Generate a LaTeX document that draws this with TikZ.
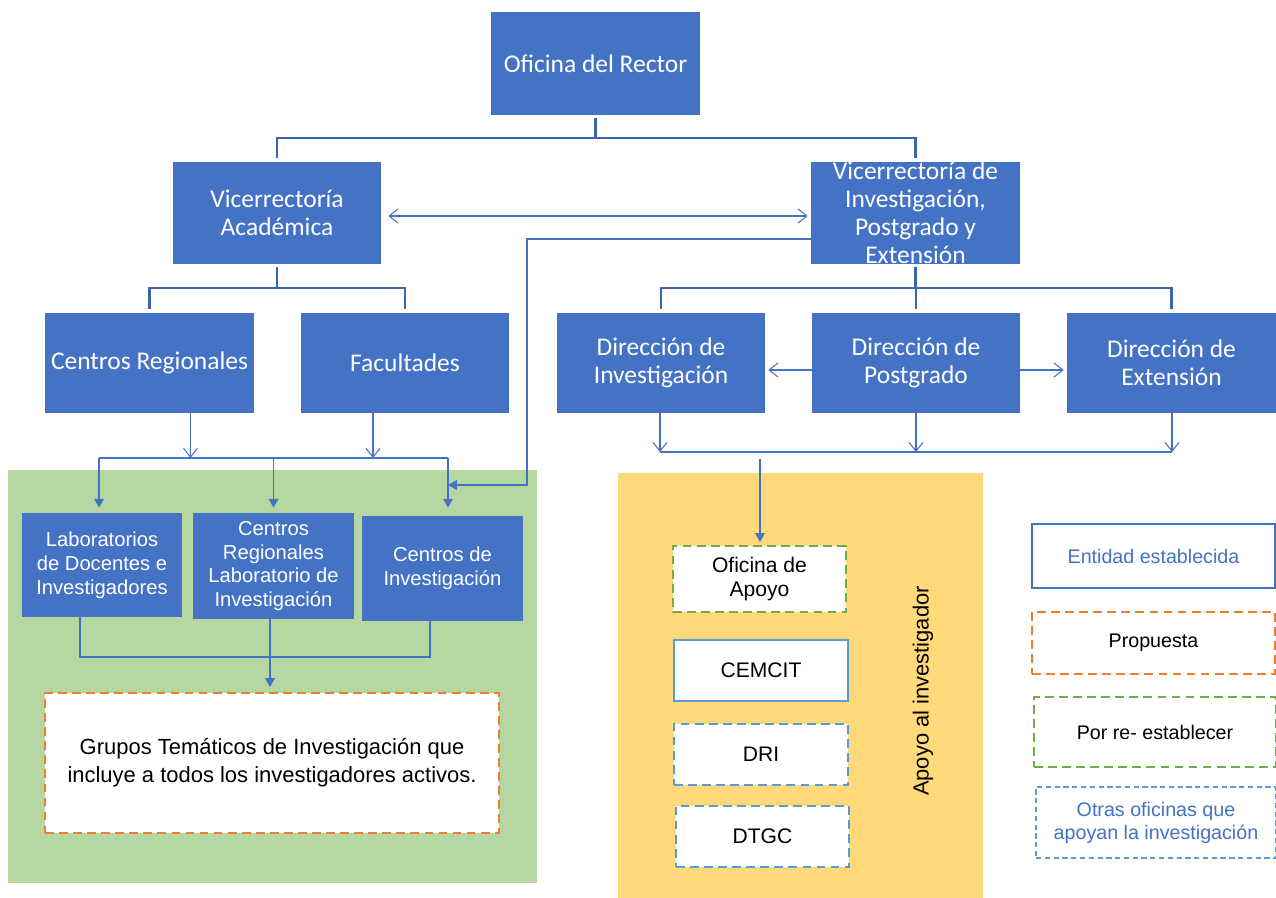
\documentclass[tikz,border=0pt]{standalone}
\usepackage{fontspec}
\setmainfont{Liberation Sans}
\newfontfamily\carl{Carlito}
\usetikzlibrary{arrows.meta,calc}
\definecolor{boxblue}{RGB}{68,114,196}
\definecolor{lineblue}{RGB}{68,114,196}
\definecolor{treeblue}{RGB}{62,100,170}
\definecolor{greenbg}{RGB}{182,215,162}
\definecolor{yellowbg}{RGB}{255,217,122}
\definecolor{dashorange}{RGB}{237,125,49}
\definecolor{dashgreen}{RGB}{112,173,71}
\definecolor{dashblue}{RGB}{91,155,213}
\begin{document}
\begin{tikzpicture}[x=0.02cm,y=-0.02cm,
 sz/.style 2 args={minimum width=#1*0.02cm, minimum height=#2*0.02cm},
 topbox/.style={fill=boxblue, text=white, inner sep=0pt, align=center, font=\carl\fontsize{14.5}{15.9}\selectfont},
 midbox/.style={fill=boxblue, text=white, inner sep=0pt, align=center, font=\fontsize{11.5}{13.6}\selectfont},
 whitebox/.style={fill=white, inner sep=0pt, align=center, line width=1.2pt, font=\fontsize{12}{14}\selectfont},
 propbox/.style={whitebox, draw=dashorange, dash pattern=on 5pt off 3pt},
 reestbox/.style={whitebox, draw=dashgreen, dash pattern=on 5pt off 3pt},
 estbox/.style={whitebox, draw=dashblue},
 otherbox/.style={whitebox, draw=dashblue, dash pattern=on 5pt off 3pt},
 legfont/.style={font=\fontsize{11.2}{13}\selectfont},
 tree/.style={draw=treeblue, line width=1.2pt, shorten <=1.7pt, shorten >=2pt},
 thinline/.style={draw=lineblue, line width=0.6pt},
 openarr/.style={thinline, -{Straight Barb[length=5pt,width=8pt]}},
 fillarr/.style={thinline, -{Triangle[length=5pt,width=5.5pt]}},
]
\path[use as bounding box, fill=white] (0,0) rectangle (1276,898);

% backgrounds
\fill[greenbg] (8,470) rectangle (537,883);
\fill[yellowbg] (618,473) rectangle (983,898);

% top level
\node[topbox, sz={209}{103}] (rector) at (595.5,63.5) {Oficina del Rector};
\node[topbox, sz={208}{102}] (va) at (277,213) {Vicerrectoría\\Académica};
\node[topbox, sz={209}{102}] (vipe) at (915.5,213) {Vicerrectoría de\\Investigación,\\Postgrado y\\Extensión};

\node[topbox, sz={209}{100}] (cr) at (149.5,363) {Centros Regionales};
\node[topbox, sz={208}{100}] (fac) at (405,363) {Facultades};
\node[topbox, sz={208}{100}] (di) at (661,363) {Dirección de\\Investigación};
\node[topbox, sz={208}{100}] (dp) at (916,363) {Dirección de\\Postgrado};
\node[topbox, sz={209}{100}] (de) at (1171.5,363) {Dirección de\\Extensión};

% green area
\node[midbox, sz={160}{104}] (lab) at (102,565) {Laboratorios\\de Docentes e\\Investigadores};
\node[midbox, sz={161}{106}] (crl) at (273.5,566) {Centros\\Regionales\\Laboratorio de\\Investigación};
\node[midbox, sz={161}{105}] (ci) at (442.5,568.5) {Centros de\\Investigación};
\node[propbox, sz={454}{140}, font=\fontsize{12.5}{16}\selectfont] (grupos) at (272,763) {Grupos Temáticos de Investigación que\\incluye a todos los investigadores activos.};

% yellow area
\node[reestbox, sz={173}{66}] (ofa) at (759.5,579) {Oficina de\\Apoyo};
\node[estbox, sz={174}{61}] (cemcit) at (761,670.5) {CEMCIT};
\node[otherbox, sz={174}{61}] (dri) at (761,754.5) {DRI};
\node[otherbox, sz={173}{61}] (dtgc) at (762.5,836.5) {DTGC};
\node[rotate=90, font=\fontsize{12.5}{14}\selectfont] (apoyo) at (923,691) {Apoyo al investigador};

% legend
\node[legfont, fill=white, draw=lineblue, line width=0.8pt, text=boxblue, sz={243}{64}, inner sep=0pt] (leg1) at (1153.5,556) {Entidad establecida};
\node[legfont, fill=white, draw=dashorange, line width=1.2pt, dash pattern=on 5pt off 3pt, sz={243}{62}, inner sep=0pt] (leg2) at (1153.5,643) {Propuesta};
\node[legfont, fill=white, draw=dashgreen, line width=1.2pt, dash pattern=on 5pt off 3pt, sz={242}{70}, inner sep=0pt] (leg3) at (1155,732) {Por re- establecer};
\node[legfont, fill=white, draw=dashblue, line width=0.6pt, dash pattern=on 3pt off 2pt, text=boxblue, sz={240}{71}, inner sep=0pt, align=center] (leg4) at (1156,822.5) {Otras oficinas que\\apoyan la investigación};

% tree connectors
\draw[tree] (rector.south) -- ++(0,23) -| (va.north);
\draw[tree] (rector.south) -- ++(0,23) -| (vipe.north);
\draw[tree] (va.south) -- ++(0,24) -| (cr.north);
\draw[tree] (va.south) -- ++(0,24) -| (fac.north);
\draw[tree] (vipe.south) -- ++(0,24) -| (di.north);
\draw[tree] (vipe.south) -- ++(0,24) -| (dp.north);
\draw[tree] (vipe.south) -- ++(0,24) -| (de.north);

% double arrow between vicerrectorias
\draw[thinline, {Straight Barb[length=5pt,width=8pt]}-{Straight Barb[length=5pt,width=8pt]}]
  ([shift={(7,3)}]va.east) -- ([shift={(-3,3)}]vipe.west);

% left part connectors
\coordinate (hl) at (99,458);
\coordinate (hr) at (448,458);
\coordinate (ciIn) at (448,485);
\draw[openarr] ([xshift=41*0.02cm]cr.south) -- ([xshift=41*0.02cm]cr.south |- hl);
\draw[openarr] ([xshift=-32*0.02cm]fac.south) -- ([xshift=-32*0.02cm]fac.south |- hl);
\draw[thinline] (hl) -- (hr);
\draw[fillarr] (hl) -- ([yshift=0.1cm]lab.north -| hl);
\draw[fillarr] (crl.north |- hl) -- ([yshift=0.1cm]crl.north);
\draw[fillarr] (hr) -- ([yshift=0.16cm]ci.north -| hr);
\draw[fillarr] ([yshift=-26*0.02cm]vipe.west) -| (527,485) -- (ciIn);

\coordinate (bl) at (80,657);
\coordinate (bm) at (270,657);
\coordinate (br) at (430,657);
\draw[thinline] (lab.south -| bl) -- (bl) -- (br) -- (ci.south -| br);
\draw[thinline] (crl.south -| bm) -- (bm);
\draw[fillarr] (bm) -- ([yshift=0.1cm]grupos.north -| bm);

% right part connectors
\draw[openarr] ([yshift=-7*0.02cm]dp.west) -- ([shift={(3,7)}]di.east);
\draw[openarr] ([yshift=-7*0.02cm]dp.east) -- ([shift={(-3,7)}]de.west);
\coordinate (rl) at (660,452);
\coordinate (rr) at (1172,452);
\draw[thinline] (rl) -- (rr);
\draw[openarr] (di.south -| rl) -- (rl);
\draw[openarr] (dp.south) -- (dp.south |- rl);
\draw[openarr] (de.south -| rr) -- (rr);
\coordinate (rd) at (760,459);
\draw[fillarr] (rd) -- ([yshift=0.06cm]ofa.north -| rd);
\end{tikzpicture}
\end{document}
